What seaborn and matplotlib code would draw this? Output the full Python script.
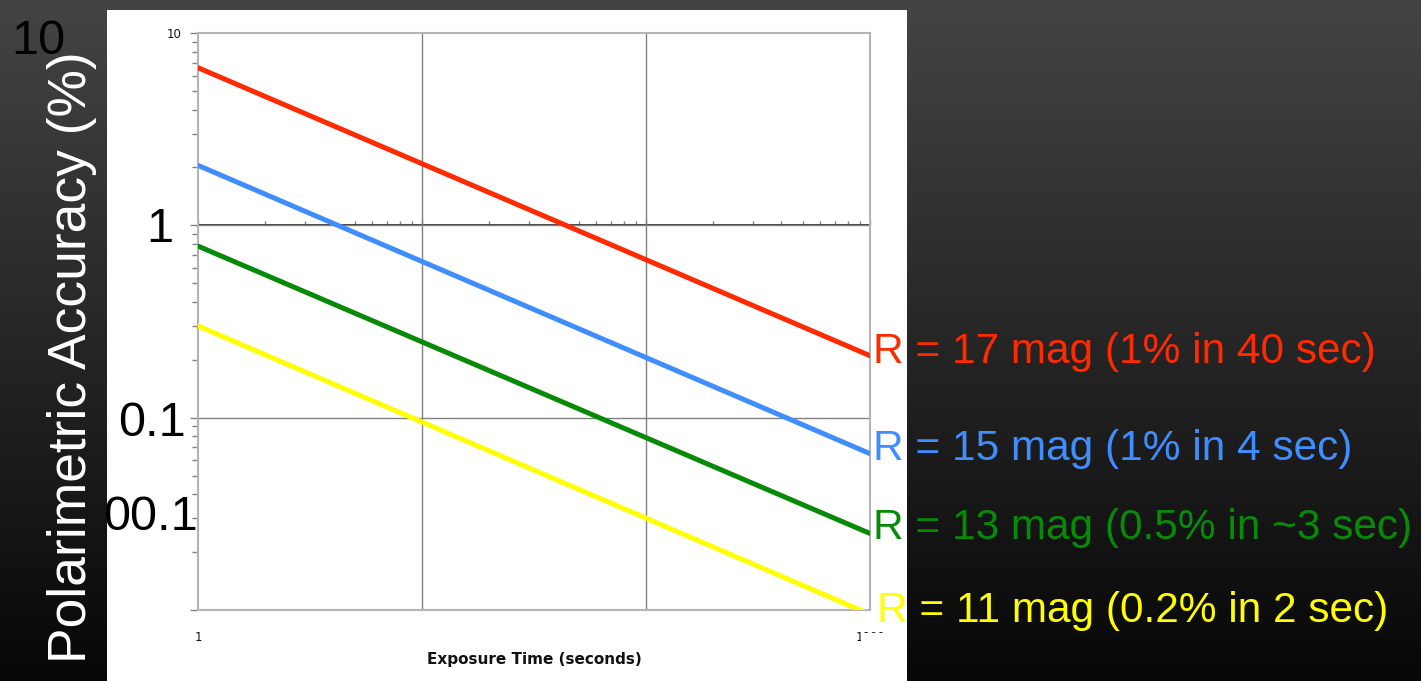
import numpy as np
import pandas as pd
import matplotlib
matplotlib.use("Agg")
import matplotlib.pyplot as plt
from matplotlib.patches import Rectangle
import seaborn as sns

# ---- data -------------------------------------------------------------
exposure = [1, 1000]                      # seconds
acc_r17 = [6.6, 0.21]                     # polarimetric accuracy (%)
acc_r15 = [2.05, 0.065]
acc_r13 = [0.78, 0.025]
acc_r11 = [0.30, 0.0095]
series_names = ["R17", "R15", "R13", "R11"]
series_labels = ["R = 17 mag (1% in 40 sec)",
                 "R = 15 mag (1% in 4 sec)",
                 "R = 13 mag (0.5% in ~3 sec)",
                 "R = 11 mag (0.2% in 2 sec)"]
series_colors = ["#ff2a00", "#3f8dff", "#078a07", "#ffff00"]
slide_ylabels = ["10", "1", "0.1", "00.1"]

df = pd.concat([
    pd.DataFrame({"exposure": exposure, "accuracy": acc, "series": name})
    for name, acc in zip(series_names, [acc_r17, acc_r15, acc_r13, acc_r11])
], ignore_index=True)

# ---- figure -----------------------------------------------------------
W, H = 1421, 681
sns.set_theme(style="white")
plt.rcParams["font.family"] = ["Liberation Sans", "DejaVu Sans"]
fig = plt.figure(figsize=(W / 100, H / 100), dpi=100)


def px(x, y):
    """pixel position -> figure fraction"""
    return x / W, 1 - y / H


# dark gradient slide background
bg = fig.add_axes([0, 0, 1, 1], zorder=-10)
grad = np.linspace(0, 1, 256)[:, None]
bg_cmap = matplotlib.colors.LinearSegmentedColormap.from_list(
    "slide", ["#444444", "#262626", "#070707"])
bg.imshow(grad, aspect="auto", cmap=bg_cmap, extent=[0, 1, 0, 1])
bg.set_axis_off()

# white chart panel
fig.patches.append(Rectangle(px(107, 681), 800 / W, 671 / H,
                             transform=fig.transFigure, facecolor="white",
                             edgecolor="none", zorder=-5))

# main axes
x0, y0 = px(198, 610)
ax = fig.add_axes([x0, y0, (870 - 198) / W, (610 - 33) / H])
ax.set_facecolor("white")
ax.set(xscale="log", yscale="log")

sns.lineplot(data=df, x="exposure", y="accuracy", hue="series",
             hue_order=series_names, palette=series_colors,
             linewidth=3.6, legend=False, ax=ax, zorder=3)

ax.set_xlim(1, 1000)
ax.set_ylim(0.01, 10)
ax.set_xlabel("Exposure Time (seconds)", family="DejaVu Sans",
              fontweight="bold", fontsize=11, color="#111111", labelpad=6)
ax.set_ylabel("")

# grid
for v in [1, 0.1]:
    ax.axhline(v, color="#808080", lw=1, zorder=1)
for v in [10, 100]:
    ax.axvline(v, color="#808080", lw=1, zorder=1)

for s in ax.spines.values():
    s.set_color("#b4b4b4")
    s.set_linewidth(1.5)
    s.set_visible(True)

# y axis ticks
ax.set_yticks([0.01, 0.1, 1, 10])
ax.set_yticklabels(["", "", "", "10"], family="DejaVu Sans", fontsize=8.5,
                   color="#111111")
ax.yaxis.set_minor_locator(matplotlib.ticker.LogLocator(base=10, subs=np.arange(2, 10)))
ax.yaxis.set_minor_formatter(matplotlib.ticker.NullFormatter())
ax.tick_params(axis="y", which="major", direction="out", length=6, width=1,
               color="#808080", left=True, pad=6)
ax.tick_params(axis="y", which="minor", direction="out", length=4, width=1,
               color="#808080", left=True)

# x axis labels at bottom, ticks on the axis line at y = 1
ax.set_xticks([1, 1000])
ax.set_xticklabels(["1", "1000"], family="DejaVu Sans", fontsize=8.5,
                   color="#111111")
ax.xaxis.set_minor_locator(matplotlib.ticker.NullLocator())
ax.tick_params(axis="x", which="major", direction="out", length=0, pad=15,
               bottom=True)

sec = ax.secondary_xaxis(2 / 3)
sec.set_xticks([1, 10, 100, 1000])
sec.xaxis.set_minor_locator(matplotlib.ticker.LogLocator(base=10, subs=np.arange(2, 10)))
sec.xaxis.set_minor_formatter(matplotlib.ticker.NullFormatter())
sec.set_xticklabels([])
sec.tick_params(axis="x", which="major", direction="out", length=4, width=1,
                color="#808080")
sec.tick_params(axis="x", which="minor", direction="out", length=3, width=1,
                color="#808080")
sec.spines["bottom"].set_color("#808080")
sec.spines["bottom"].set_linewidth(1)

# part of the "1000" label sits under the slide text box
fig.patches.append(Rectangle(px(861, 648), 36 / W, 15 / H,
                             transform=fig.transFigure, facecolor="white",
                             edgecolor="none", zorder=5))

# slide y-axis title
fig.text(*px(72, 357), "Polarimetric Accuracy (%)", rotation=90,
         color="white", fontsize=38.4, ha="center", va="center")

# slide axis value labels
for lab, (xr, yc) in zip(slide_ylabels, [(65, 36), (173, 225), (186, 418), (198, 513)]):
    fig.text(*px(xr, yc), lab, color="black", fontsize=35, ha="right",
             va="center_baseline")

# series labels
for lab, col, (xl, yb) in zip(series_labels, series_colors,
                              [(873, 363), (873, 460), (873, 539), (877, 622)]):
    fig.text(*px(xl, yb), lab, color=col, fontsize=30.5, ha="left",
             va="baseline", zorder=10)

fig.savefig("out.png", dpi=100)
